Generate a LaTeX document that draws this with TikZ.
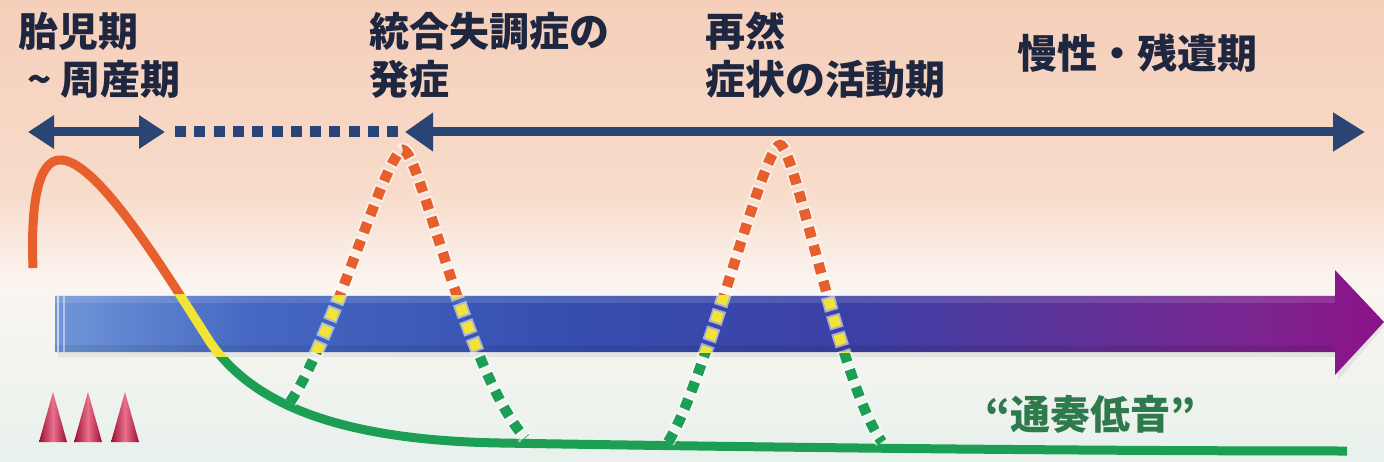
\documentclass[tikz,border=0pt]{standalone}
\usepackage{fontspec}
\newfontfamily\jp{Noto Sans CJK JP}
\usetikzlibrary{arrows.meta}
\definecolor{navy}{HTML}{2A4574}
\definecolor{txtnavy}{HTML}{1E2640}
\definecolor{txtgreen}{HTML}{2E7A4C}
\definecolor{bgA}{HTML}{F5CFBA}
\definecolor{bgB}{HTML}{F8DBCA}
\definecolor{bgC}{HTML}{FAF5F1}
\definecolor{bgD}{HTML}{E8F1EC}
\definecolor{corange}{HTML}{E65F2C}
\definecolor{cyellow}{HTML}{F1E436}
\definecolor{cgreen}{HTML}{1C9E55}
\definecolor{conedark}{HTML}{A00C32}
\definecolor{conelight}{HTML}{E8708C}
\definecolor{sA}{HTML}{7096D8}
\definecolor{sB}{HTML}{4668C2}
\definecolor{sC}{HTML}{3650B0}
\definecolor{sD}{HTML}{3C40A6}
\definecolor{sE}{HTML}{5A3499}
\definecolor{sF}{HTML}{7A2590}
\definecolor{sG}{HTML}{8C1288}
\pgfdeclarehorizontalshading{bigarrow}{100bp}{color(0bp)=(sA); color(25bp)=(sA); color(32.3bp)=(sB); color(43.6bp)=(sC); color(54.9bp)=(sD); color(62.4bp)=(sE); color(70bp)=(sF); color(75bp)=(sG); color(100bp)=(sG)}
\newcommand\mymaincurve{(33,268) .. controls (30,190) and (42,158) .. (62,160) .. controls (100,163) and (170,280) .. (210,342) .. controls (250,400) and (330,440) .. (500,443) .. controls (800,448) and (1100,451) .. (1347,451)}
\newcommand\mypeakone{(290,402) .. controls (332,342) and (386,150) .. (403,150) .. controls (420,150) and (465,370) .. (525,438)}
\newcommand\mypeaktwo{(668,442) .. controls (705,385) and (763,145) .. (780,145) .. controls (795,145) and (840,385) .. (882,442)}
\begin{document}
\begin{tikzpicture}[x=1pt,y=-1pt,
  txt/.style={font=\jp\bfseries\fontsize{40}{48}\selectfont, text=txtnavy, inner sep=0pt, anchor=base west},
  curveline/.style={line width=9pt},
  peakdash/.style={line width=10.5pt, dash pattern=on 10.5pt off 8pt},
  peakglow/.style={line width=14pt, white, opacity=0.55, dash pattern=on 14.5pt off 4pt, dash phase=2pt},
  navyarrow/.style={navy, line width=9pt},
  cone/.style={left color=conedark, right color=conedark, middle color=conelight}
]
\useasboundingbox (0,0) rectangle (1384,462);
% background
\fill[top color=bgA, bottom color=bgB] (0,0) rectangle (1384,190);
\fill[top color=bgB, bottom color=bgC] (0,190) rectangle (1384,285.5);
\fill[top color=bgC, bottom color=bgD] (0,285) rectangle (1384,462);

% big gradient arrow
\fill[black, opacity=0.06] (58,300) -- (1338,300) -- (1338,274) -- (1384,327) -- (1338,380) -- (1338,357) -- (58,357) -- cycle;
\shade[shading=bigarrow] (55,296) -- (1335,296) -- (1335,270) -- (1384,322) -- (1335,375) -- (1335,352) -- (55,352) -- cycle;
\fill[white, opacity=0.12] (55,296) rectangle (1335,303);
\fill[black, opacity=0.08] (55,345) rectangle (1335,352);
\draw[white, opacity=0.6, line width=1.5pt] (58,296) -- (58,352);
\draw[white, opacity=0.45, line width=1.5pt] (64,296) -- (64,352);

% main curve, coloured by height
\begin{scope}
  \clip (0,0) rectangle (1384,295);
  \draw[curveline, corange] \mymaincurve;
\end{scope}
\begin{scope}
  \clip (0,295) rectangle (1384,357);
  \draw[curveline, cyellow] \mymaincurve;
\end{scope}
\begin{scope}
  \clip (0,357) rectangle (1384,462);
  \draw[curveline, cgreen] \mymaincurve;
\end{scope}

% dashed peaks
\draw[peakglow] \mypeakone;
\draw[peakglow] \mypeaktwo;
\begin{scope}
  \clip (0,0) rectangle (1384,296);
  \draw[peakdash, corange] \mypeakone;
  \draw[peakdash, corange] \mypeaktwo;
\end{scope}
\begin{scope}
  \clip (0,296) rectangle (1384,353);
  \draw[peakdash, cyellow] \mypeakone;
  \draw[peakdash, cyellow] \mypeaktwo;
\end{scope}
\begin{scope}
  \clip (0,353) rectangle (1384,462);
  \draw[peakdash, cgreen] \mypeakone;
  \draw[peakdash, cgreen] \mypeaktwo;
\end{scope}

% top timeline arrows
\coordinate (a1) at (28,132);
\coordinate (a2) at (165,132);
\coordinate (d1) at (175,132);
\coordinate (d2) at (398,132);
\coordinate (b1) at (405,132);
\coordinate (b2) at (1365,132);
\draw[navyarrow, {Triangle[length=26pt,width=32pt]}-{Triangle[length=26pt,width=32pt]}] (a1) -- (a2);
\draw[navy, line width=11pt, dash pattern=on 11pt off 8.3pt] (d1) -- (d2);
\draw[navyarrow, {Triangle[length=28pt,width=37pt]}-{Triangle[length=32pt,width=37pt]}] (b1) -- (b2);

% cones
\shade[cone] (39,442) -- (53,392) -- (67,442) -- cycle;
\shade[cone] (74,442) -- (88,392) -- (102,442) -- cycle;
\shade[cone] (111,442) -- (125,392) -- (139,442) -- cycle;

% texts
\node[txt] (t1a) at (18,47) {胎児期};
\node[txt] (t1b) at (27,95) {\textasciitilde\ 周産期};
\node[txt] (t2a) at (369,47) {統合失調症の};
\node[txt] (t2b) at (369,95) {発症};
\node[txt] (t3a) at (705,47) {再然};
\node[txt] (t3b) at (705,95) {症状の活動期};
\node[txt] (t4) at (1017,69) {慢性・残遺期};
\node[txt, text=txtgreen] (t5) at (985,429) {“通奏低音”};
\end{tikzpicture}
\end{document}
